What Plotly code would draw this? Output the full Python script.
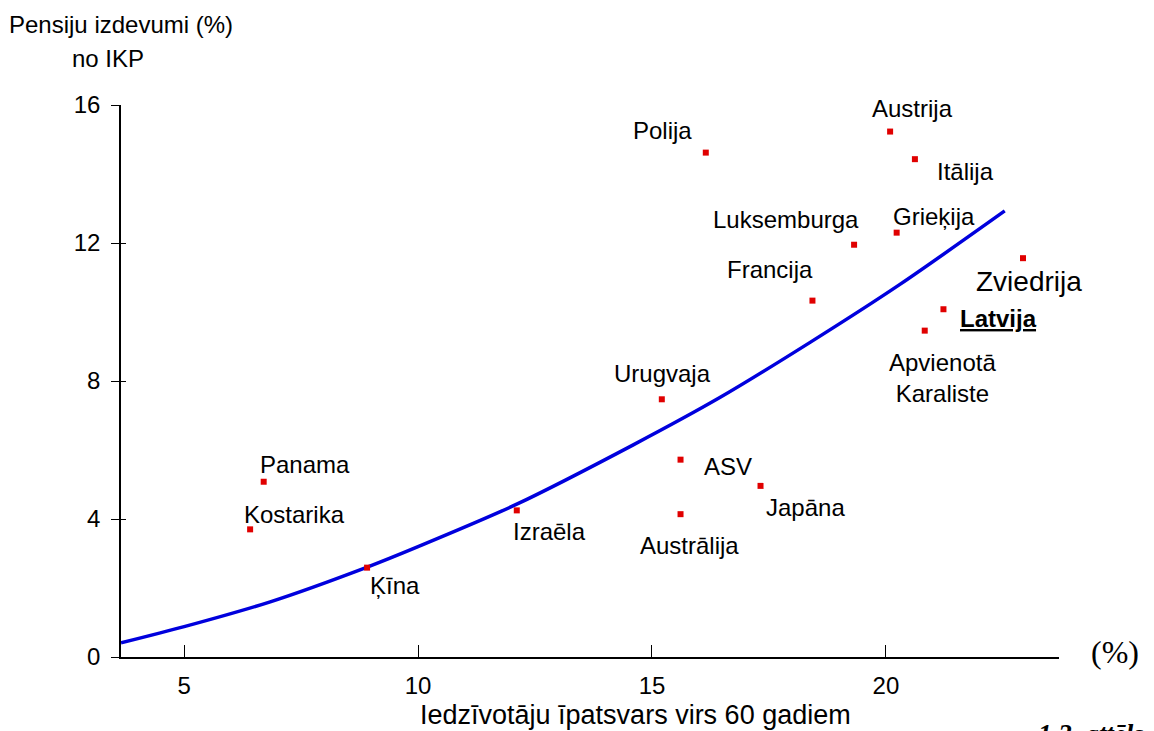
import plotly.graph_objects as go

# ---- data ----
countries = ["Polija", "Austrija", "Itālija", "Luksemburga", "Grieķija", "Francija",
             "Zviedrija", "Latvija", "Apvienotā<br>Karaliste", "Urugvaja", "Panama",
             "Kostarika", "Ķīna", "Izraēla", "ASV", "Austrālija", "Japāna"]
share_60plus = [16.15, 20.09, 20.62, 19.32, 20.23, 18.43,
                22.93, 21.23, 20.83, 15.21, 6.70,
                6.41, 8.91, 12.11, 15.61, 15.61, 17.32]
pension_gdp = [14.62, 15.23, 14.43, 11.95, 12.30, 10.33,
               11.56, 10.08, 9.46, 7.47, 5.08,
               3.70, 2.59, 4.25, 5.72, 4.14, 4.96]

trend_x = [3.65, 5.0, 6.84, 8.9, 10.0, 12.11, 14.6, 16.45, 18.38, 20.3, 22.54]
trend_y = [0.41, 0.88, 1.60, 2.60, 3.20, 4.43, 6.15, 7.52, 9.12, 10.80, 12.93]

x_ticks = [5, 10, 15, 20]
y_ticks = [0, 4, 8, 12, 16]

# label placement (pixel offsets from each point), font size
label_dx = [-43, 22, 51, -68, 37, -42, 6, 55, 18, 1, 41, 44, 28, 33, 47, 9, 45]
label_dy = [22, 23, -12, 25, 16, 31, -23, -9, -47, 26, 17, 15, -18, -21, -7, -31, -22]
label_size = [24, 24, 24, 24, 24, 24, 28, 24, 24, 24, 24, 24, 24, 24, 24, 24, 24]

FONT = "Liberation Sans, Arial, sans-serif"
SERIF = "Liberation Serif, Times New Roman, serif"

fig = go.Figure()

fig.add_trace(go.Scatter(
    x=trend_x, y=trend_y, mode="lines",
    line=dict(color="#0000DD", width=3.5, shape="spline", smoothing=0.8),
    hoverinfo="skip", showlegend=False))

fig.add_trace(go.Scatter(
    x=share_60plus, y=pension_gdp, mode="markers",
    marker=dict(symbol="square", size=6, color="#E00000", line=dict(width=0)),
    text=countries, showlegend=False))

# invisible trace so the overlaid y axis (inner half of crossing ticks) is drawn
fig.add_trace(go.Scatter(x=[x_ticks[0]], y=[y_ticks[0]], yaxis="y2", mode="markers",
                         marker=dict(opacity=0), hoverinfo="skip", showlegend=False))

annotations = []
for name, xv, yv, dx, dy, fs in zip(countries, share_60plus, pension_gdp,
                                    label_dx, label_dy, label_size):
    txt = "<b><u>" + name + "</u></b>" if name == "Latvija" else name
    annotations.append(dict(x=xv, y=yv, xref="x", yref="y", text=txt, showarrow=False,
                            xshift=dx, yshift=dy, font=dict(family=FONT, size=fs, color="black")))

annotations += [
    dict(x=0.0, y=1.145, xref="paper", yref="paper", text="Pensiju izdevumi (%)",
         showarrow=False, font=dict(family=FONT, size=24, color="black"),
         xanchor="center", yanchor="middle"),
    dict(x=-0.0139, y=1.085, xref="paper", yref="paper", text="no IKP",
         showarrow=False, font=dict(family=FONT, size=24, color="black"),
         xanchor="center", yanchor="middle"),
    dict(x=0.548, y=-0.105, xref="paper", yref="paper",
         text="Iedzīvotāju īpatsvars virs 60 gadiem",
         showarrow=False, font=dict(family=FONT, size=27, color="black"),
         xanchor="center", yanchor="middle"),
    dict(x=1.06, y=0.009, xref="paper", yref="paper", text="(%)",
         showarrow=False, font=dict(family=SERIF, size=32, color="black"),
         xanchor="center", yanchor="middle"),
    dict(x=0.975, y=-0.108, xref="paper", yref="paper", text="<b><i>1.2. attēls</i></b>",
         showarrow=False, font=dict(family=SERIF, size=27, color="black"),
         xanchor="left", yanchor="top"),
]

# the page body adds an 8px offset, so margins are compensated
fig.update_layout(
    width=1154, height=731,
    margin=dict(l=113, r=103, t=97, b=82),
    paper_bgcolor="white", plot_bgcolor="white",
    font=dict(family=FONT, color="black"),
    annotations=annotations,
    xaxis=dict(range=[3.65, 23.7], tickmode="array", tickvals=x_ticks,
               ticks="inside", ticklen=12, tickwidth=1, tickcolor="black",
               showline=True, linecolor="black", linewidth=1.5,
               showgrid=False, zeroline=False,
               tickfont=dict(family=FONT, size=24, color="black"),
               ticklabelstandoff=6),
    yaxis=dict(range=[0, 16], tickmode="array", tickvals=y_ticks,
               ticks="outside", ticklen=8, tickwidth=1, tickcolor="black",
               showline=True, linecolor="black", linewidth=1.5,
               showgrid=False, zeroline=False,
               tickfont=dict(family=FONT, size=24, color="black"),
               ticklabelstandoff=6),
    yaxis2=dict(range=[0, 16], overlaying="y", side="left", tickmode="array",
                tickvals=y_ticks, ticks="inside", ticklen=5, tickwidth=1,
                tickcolor="black", showticklabels=False, showline=False,
                showgrid=False, zeroline=False),
)

fig.write_html("out.html")
